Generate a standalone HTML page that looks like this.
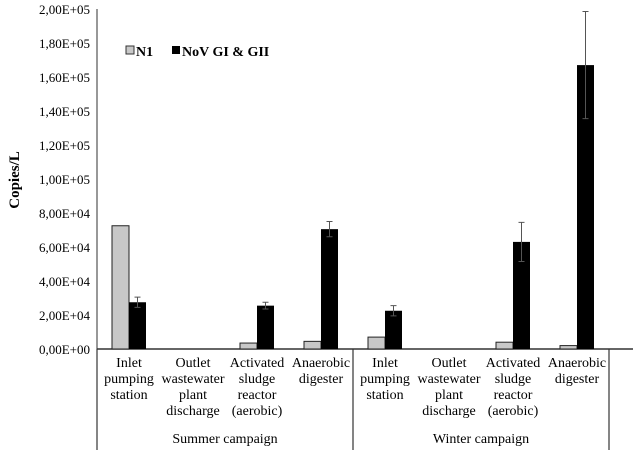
<!DOCTYPE html>
<html><head><meta charset="utf-8"><style>
body{margin:0;background:#fff}
svg{display:block;font-family:"Liberation Serif",serif}
</style></head><body>
<svg id="c" width="633" height="450"></svg>
<script>
const categories=["Inlet|pumping|station","Outlet|wastewater|plant|discharge","Activated|sludge|reactor|(aerobic)","Anaerobic|digester","Inlet|pumping|station","Outlet|wastewater|plant|discharge","Activated|sludge|reactor|(aerobic)","Anaerobic|digester"];
const campaigns=["Summer campaign","Winter campaign"];
const n1=[72500,0,3500,4500,7000,0,4000,2000];
const nov=[27500,0,25500,70500,22500,0,63000,167000];
const novErr=[3000,0,2000,4500,3000,0,11500,31500];
const ticks=[0,20000,40000,60000,80000,100000,120000,140000,160000,180000,200000];
const tickLabels=["0,00E+00","2,00E+04","4,00E+04","6,00E+04","8,00E+04","1,00E+05","1,20E+05","1,40E+05","1,60E+05","1,80E+05","2,00E+05"];
const NS="http://www.w3.org/2000/svg",svg=document.getElementById('c');
const x0=97,x1=609,yb=349,yt=9,ymax=200000;
const y=v=>yb-(v/ymax)*(yb-yt);
const gw=(x1-x0)/categories.length,bw=17;
function mk(t,a,p){const e=document.createElementNS(NS,t);for(const k in a)e.setAttribute(k,a[k]);(p||svg).appendChild(e);return e;}
let e;
e=mk('line',{x1:x0,y1:yt,x2:x0,y2:yb,stroke:'#777','stroke-width':1.5});


e=mk('line',{x1:x0,y1:yb,x2:633,y2:yb,stroke:'#333','stroke-width':1.5});


ticks.forEach((t,i)=>{e=mk('text',{x:90,y:y(t)+5,'text-anchor':'end','font-size':13});e.textContent=tickLabels[i];

});
e=mk('text',{x:0,y:0,transform:'translate(19,180) rotate(-90)','text-anchor':'middle','font-size':15,'font-weight':'bold'});e.textContent='Copies/L';


categories.forEach((c,i)=>{
 const cx=x0+gw*i+gw/2;
 if(n1[i]>0){e=mk('rect',{x:cx-bw,y:y(n1[i]),width:bw,height:yb-y(n1[i]),fill:'#c8c8c8',stroke:'#222','stroke-width':1});
 
 }
 if(nov[i]>0){e=mk('rect',{x:cx,y:y(nov[i]),width:bw,height:yb-y(nov[i]),fill:'#000'});
 
 
 const ex=cx+bw/2,hi=y(nov[i]+novErr[i]),lo=y(nov[i]-novErr[i]);
 e=mk('path',{d:`M${ex},${hi}V${lo}M${ex-3},${hi}H${ex+3}M${ex-3},${lo}H${ex+3}`,stroke:'#555','stroke-width':1,fill:'none'});
 
 }
 c.split('|').forEach((l,j)=>{e=mk('text',{x:cx,y:367+j*16,'text-anchor':'middle','font-size':14});e.textContent=l;
 
 });
});
[0,1,2].forEach(k=>{const sx=x0+k*gw*4;e=mk('line',{x1:sx,y1:yb,x2:sx,y2:450,stroke:'#333','stroke-width':1.2});

});
campaigns.forEach((c,k)=>{e=mk('text',{x:x0+gw*4*k+gw*2,y:443,'text-anchor':'middle','font-size':14});e.textContent=c;

});
e=mk('rect',{x:126,y:46,width:8,height:8,fill:'#c8c8c8',stroke:'#333'});


e=mk('text',{x:136,y:56,'font-size':14,'font-weight':'bold'});e.textContent='N1';


e=mk('rect',{x:172,y:46,width:8,height:8,fill:'#000'});


e=mk('text',{x:182,y:56,'font-size':14,'font-weight':'bold'});e.textContent='NoV GI & GII';


</script>
</body></html>
